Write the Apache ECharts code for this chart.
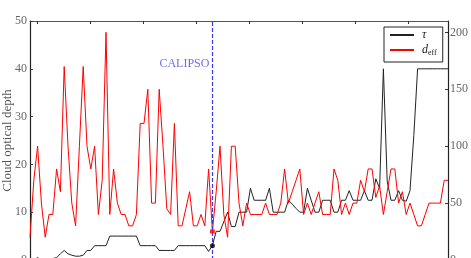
<!DOCTYPE html>
<html><head><meta charset="utf-8">
<script src="https://cdn.jsdelivr.net/npm/echarts@6/dist/echarts.min.js"></script>
<style>html,body{margin:0;padding:0;background:#fff}#c{width:471px;height:258px}</style>
</head><body><div id="c"></div>
<script>
// Cloud optical depth (left axis)
const tau = [0,0,0.5,0,0,0,0.3,0.5,1.3,2,1.3,1,0.8,0.8,1,2,2,3,3,3,
  3,5,5,5,5,5,5,5,5,3,3,3,3,3,2,2,2,2,2,3,
  3,3,3,3,3,3,3,1.8,3,6,6,8,10,7,7,10,10,10,15,12.5,
  12.5,12.5,12.5,15,10,10,10,10,12.5,11.7,10.8,10,10,15,12.5,10,10,12.5,12.5,12.5,
  10,10,12.5,12.5,14.5,12.5,12.5,12.5,14.5,12.5,12.5,17,15,40,16.5,12.5,12.5,14.5,12.5,12.3,
  14.5,26,40,40,40,40,40,40,40,40,40];
// Effective diameter (right axis)
const deff = [20,70,100,50,20,40,40,80,60,170,100,50,30,100,170,100,80,100,40,70,
  200,40,80,50,40,40,30,30,40,120,120,150,50,50,150,100,45,40,120,30,
  30,45,60,30,30,40,30,80,25,60,100,40,20,100,100,50,30,50,40,40,
  40,40,50,40,40,40,50,80,50,60,70,80,40,50,40,50,60,40,40,40,
  80,70,40,50,40,50,50,70,60,80,80,55,65,40,60,80,80,50,60,40,
  50,40,30,30,40,50,50,50,50,70,70];
const leftTicks = [0,10,20,30,40,50];
const rightTicks = [0,50,100,150,200];
const xTicks = [1.84,15.79,29.74,43.68,57.63,71.58,85.53,99.47];
const calipsoIndex = 48;
const calipsoLabelTau = 41;
const samples = tau.map((_, i) => i);

const FONT = 'Liberation Serif';
const chart = echarts.init(document.getElementById('c'), null, {renderer: 'canvas'});
chart.setOption({
  animation: false,
  backgroundColor: '#fff',
  grid: {left: 30, right: 23, top: 21, bottom: -2, containLabel: false, outerBoundsMode: 'none'},
  legend: {
    data: ['tau', 'deff'],
    orient: 'vertical',
    left: 384, top: 27,
    padding: [2, 6, 5, 5],
    itemGap: 3,
    itemWidth: 24, itemHeight: 10,
    borderColor: '#222', borderWidth: 1, borderRadius: 0,
    backgroundColor: '#fff',
    itemStyle: {opacity: 0},
    formatter: n => n === 'tau' ? '{i|τ}' : '{i|d}{s|eff}',
    textStyle: {
      padding: [0, 0, 0, 3],
      rich: {
        i: {fontFamily: FONT, fontStyle: 'italic', fontSize: 12, lineHeight: 14, color: '#222'},
        s: {fontFamily: FONT, fontSize: 8, lineHeight: 14, verticalAlign: 'bottom', color: '#222'}
      }
    }
  },
  xAxis: [
    {type: 'value', min: 0, max: samples.length - 1, position: 'bottom',
     axisLine: {show: true, onZero: false, lineStyle: {color: '#222'}},
     axisTick: {show: false}, axisLabel: {show: false}, splitLine: {show: false}},
    {type: 'value', min: 0, max: samples.length - 1, position: 'top',
     axisLine: {show: true, onZero: false, lineStyle: {color: '#555'}},
     axisTick: {show: true, inside: true, length: 3, customValues: xTicks, lineStyle: {color: '#333'}},
     axisLabel: {show: false}, splitLine: {show: false}}
  ],
  yAxis: [
    {type: 'value', min: 0, max: 50, interval: 10, position: 'left',
     name: 'Cloud optical depth', nameLocation: 'middle', nameGap: 16, nameMoveOverlap: false,
     nameTextStyle: {fontFamily: FONT, fontSize: 13, color: '#555'},
     axisLine: {show: true, onZero: false, lineStyle: {color: '#222', width: 1.2}},
     axisTick: {show: true, inside: true, length: 3, lineStyle: {color: '#333'}},
     axisLabel: {margin: 3, fontFamily: FONT, fontSize: 12, color: '#666'},
     splitLine: {show: false}},
    {type: 'value', min: 0, max: 210, position: 'right',
     axisLine: {show: true, onZero: false, lineStyle: {color: '#222', width: 1.2}},
     axisTick: {show: true, inside: true, length: 3, customValues: rightTicks, lineStyle: {color: '#333'}},
     axisLabel: {customValues: rightTicks, margin: 2, fontFamily: FONT, fontSize: 12, color: '#666'},
     splitLine: {show: false}}
  ],
  series: [
    {name: 'tau', type: 'line', xAxisIndex: 0, yAxisIndex: 0,
     data: samples.map(i => [i, tau[i]]), symbol: 'none',
     lineStyle: {color: '#222', width: 1}, itemStyle: {color: '#222'}, z: 2,
     markLine: {symbol: 'none', silent: true, animation: false,
       lineStyle: {color: '#3a3aee', type: [4, 2], width: 1.2},
       label: {show: false},
       data: [{xAxis: calipsoIndex}]}},
    {name: 'deff', type: 'line', xAxisIndex: 0, yAxisIndex: 1,
     data: samples.map(i => [i, deff[i]]), symbol: 'none',
     lineStyle: {color: '#ff0000', width: 1}, itemStyle: {color: '#ff0000'}, z: 3},
    {type: 'scatter', xAxisIndex: 0, yAxisIndex: 0,
     data: [[calipsoIndex, tau[calipsoIndex]]], symbolSize: 5,
     itemStyle: {color: '#000'}, z: 5},
    {type: 'scatter', xAxisIndex: 0, yAxisIndex: 1,
     data: [[calipsoIndex, deff[calipsoIndex]]], symbol: 'rect', symbolSize: [5, 4],
     itemStyle: {color: '#ff0000'}, z: 5},
    {type: 'scatter', xAxisIndex: 0, yAxisIndex: 0,
     data: [[calipsoIndex, calipsoLabelTau]], symbolSize: 0, silent: true,
     label: {show: true, formatter: 'CALIPSO', position: 'left', distance: 3,
       fontFamily: FONT, fontSize: 12, color: '#4a4ae0'}, z: 6}
  ]
});
</script></body></html>
